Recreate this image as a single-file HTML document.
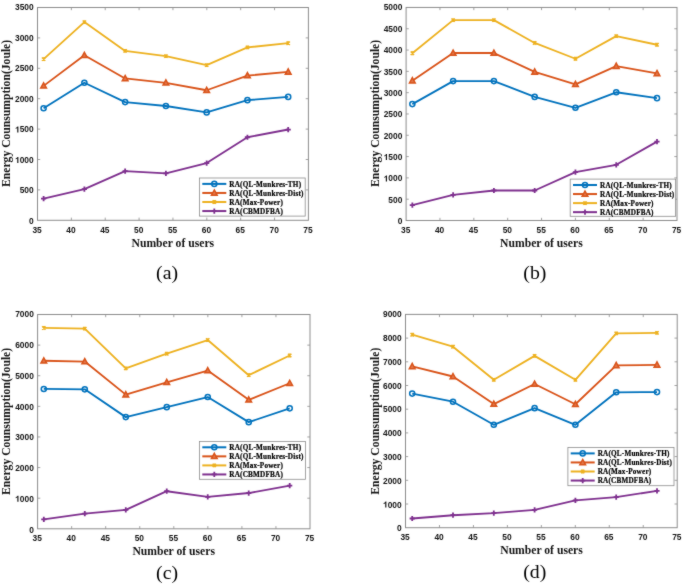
<!DOCTYPE html>
<html><head><meta charset="utf-8"><style>
html,body{margin:0;padding:0;background:#fff;-webkit-font-smoothing:antialiased;}
svg{display:block;will-change:transform;}
.tk{font-family:"Liberation Sans",sans-serif;font-weight:bold;font-size:8.4px;fill:#141414;}
.lb{font-family:"Liberation Serif",serif;font-weight:bold;font-size:11.65px;fill:#141414;}
.lg{font-family:"Liberation Serif",serif;font-weight:bold;font-size:7.2px;fill:#000;stroke:#000;stroke-width:0.2px;letter-spacing:0.2px;}
.pl{font-family:"Liberation Serif",serif;font-size:19.8px;fill:#000;}
</style></head><body>
<svg width="685" height="584" viewBox="0 0 685 584">
<filter id="soft" x="0" y="0" width="685" height="584" filterUnits="userSpaceOnUse" color-interpolation-filters="sRGB"><feConvolveMatrix order="3" kernelMatrix="1 2 1 2 24 2 1 2 1" edgeMode="duplicate"/></filter>
<g filter="url(#soft)">
<rect width="685" height="584" fill="#fff"/>
<text x="37.10" y="232.90" class="tk" text-anchor="middle">35</text>
<path d="M71.36 220.30V217.60M71.36 7.50V10.20" stroke="#8c8c8c" stroke-width="0.8"/>
<text x="70.96" y="232.90" class="tk" text-anchor="middle">40</text>
<path d="M105.22 220.30V217.60M105.22 7.50V10.20" stroke="#8c8c8c" stroke-width="0.8"/>
<text x="104.82" y="232.90" class="tk" text-anchor="middle">45</text>
<path d="M139.09 220.30V217.60M139.09 7.50V10.20" stroke="#8c8c8c" stroke-width="0.8"/>
<text x="138.69" y="232.90" class="tk" text-anchor="middle">50</text>
<path d="M172.95 220.30V217.60M172.95 7.50V10.20" stroke="#8c8c8c" stroke-width="0.8"/>
<text x="172.55" y="232.90" class="tk" text-anchor="middle">55</text>
<path d="M206.81 220.30V217.60M206.81 7.50V10.20" stroke="#8c8c8c" stroke-width="0.8"/>
<text x="206.41" y="232.90" class="tk" text-anchor="middle">60</text>
<path d="M240.67 220.30V217.60M240.67 7.50V10.20" stroke="#8c8c8c" stroke-width="0.8"/>
<text x="240.27" y="232.90" class="tk" text-anchor="middle">65</text>
<path d="M274.54 220.30V217.60M274.54 7.50V10.20" stroke="#8c8c8c" stroke-width="0.8"/>
<text x="274.14" y="232.90" class="tk" text-anchor="middle">70</text>
<text x="308.00" y="232.90" class="tk" text-anchor="middle">75</text>
<text x="33.70" y="224.00" class="tk" text-anchor="end">0</text>
<path d="M37.50 189.90H40.20M308.40 189.90H305.70" stroke="#8c8c8c" stroke-width="0.8"/>
<text x="33.70" y="193.49" class="tk" text-anchor="end">500</text>
<path d="M37.50 159.50H40.20M308.40 159.50H305.70" stroke="#8c8c8c" stroke-width="0.8"/>
<text x="33.70" y="162.97" class="tk" text-anchor="end">000</text>
<path d="M17.22 162.97 L18.41 162.97 L18.41 156.96 L17.45 156.96 L17.16 157.47 L16.45 158.06 L15.61 158.44 L15.61 159.36 L16.45 159.02 L17.22 158.52 Z" fill="#141414"/>
<path d="M37.50 129.10H40.20M308.40 129.10H305.70" stroke="#8c8c8c" stroke-width="0.8"/>
<text x="33.70" y="132.46" class="tk" text-anchor="end">500</text>
<path d="M17.22 132.46 L18.41 132.46 L18.41 126.44 L17.45 126.44 L17.16 126.96 L16.45 127.54 L15.61 127.92 L15.61 128.85 L16.45 128.51 L17.22 128.01 Z" fill="#141414"/>
<path d="M37.50 98.70H40.20M308.40 98.70H305.70" stroke="#8c8c8c" stroke-width="0.8"/>
<text x="33.70" y="101.94" class="tk" text-anchor="end">2000</text>
<path d="M37.50 68.30H40.20M308.40 68.30H305.70" stroke="#8c8c8c" stroke-width="0.8"/>
<text x="33.70" y="71.43" class="tk" text-anchor="end">2500</text>
<path d="M37.50 37.90H40.20M308.40 37.90H305.70" stroke="#8c8c8c" stroke-width="0.8"/>
<text x="33.70" y="40.91" class="tk" text-anchor="end">3000</text>
<text x="33.70" y="10.40" class="tk" text-anchor="end">3500</text>
<rect x="37.50" y="7.50" width="270.90" height="212.80" fill="none" stroke="#8c8c8c" stroke-width="1"/>
<path d="M43.60 108.25 L84.37 82.77 L125.13 102.10 L165.90 106.00 L206.67 112.38 L247.43 100.16 L288.20 96.88" stroke="#0072BD" stroke-width="1.85" fill="none" stroke-linejoin="round"/>
<circle cx="43.60" cy="108.25" r="2.55" fill="none" stroke="#0072BD" stroke-width="1.5"/>
<circle cx="84.37" cy="82.77" r="2.55" fill="none" stroke="#0072BD" stroke-width="1.5"/>
<circle cx="125.13" cy="102.10" r="2.55" fill="none" stroke="#0072BD" stroke-width="1.5"/>
<circle cx="165.90" cy="106.00" r="2.55" fill="none" stroke="#0072BD" stroke-width="1.5"/>
<circle cx="206.67" cy="112.38" r="2.55" fill="none" stroke="#0072BD" stroke-width="1.5"/>
<circle cx="247.43" cy="100.16" r="2.55" fill="none" stroke="#0072BD" stroke-width="1.5"/>
<circle cx="288.20" cy="96.88" r="2.55" fill="none" stroke="#0072BD" stroke-width="1.5"/>
<path d="M43.60 85.87 L84.37 55.29 L125.13 78.45 L165.90 82.83 L206.67 90.25 L247.43 75.60 L288.20 71.89" stroke="#D95319" stroke-width="1.85" fill="none" stroke-linejoin="round"/>
<path d="M43.60 82.87 L46.45 88.12 L40.75 88.12 Z" fill="#e2764a" stroke="#D95319" stroke-width="1.5" stroke-linejoin="miter"/>
<path d="M84.37 52.29 L87.22 57.54 L81.52 57.54 Z" fill="#e2764a" stroke="#D95319" stroke-width="1.5" stroke-linejoin="miter"/>
<path d="M125.13 75.45 L127.98 80.70 L122.28 80.70 Z" fill="#e2764a" stroke="#D95319" stroke-width="1.5" stroke-linejoin="miter"/>
<path d="M165.90 79.83 L168.75 85.08 L163.05 85.08 Z" fill="#e2764a" stroke="#D95319" stroke-width="1.5" stroke-linejoin="miter"/>
<path d="M206.67 87.25 L209.52 92.50 L203.82 92.50 Z" fill="#e2764a" stroke="#D95319" stroke-width="1.5" stroke-linejoin="miter"/>
<path d="M247.43 72.60 L250.28 77.85 L244.58 77.85 Z" fill="#e2764a" stroke="#D95319" stroke-width="1.5" stroke-linejoin="miter"/>
<path d="M288.20 68.89 L291.05 74.14 L285.35 74.14 Z" fill="#e2764a" stroke="#D95319" stroke-width="1.5" stroke-linejoin="miter"/>
<path d="M43.60 59.18 L84.37 22.09 L125.13 50.91 L165.90 56.14 L206.67 65.08 L247.43 47.38 L288.20 43.19" stroke="#EDB120" stroke-width="1.85" fill="none" stroke-linejoin="round"/>
<path d="M41.90 57.48 L45.30 60.88 M45.30 57.48 L41.90 60.88 M43.60 57.28 L43.60 61.08" stroke="#EDB120" stroke-width="1.4" fill="none"/>
<path d="M82.67 20.39 L86.07 23.79 M86.07 20.39 L82.67 23.79 M84.37 20.19 L84.37 23.99" stroke="#EDB120" stroke-width="1.4" fill="none"/>
<path d="M123.43 49.21 L126.83 52.61 M126.83 49.21 L123.43 52.61 M125.13 49.01 L125.13 52.81" stroke="#EDB120" stroke-width="1.4" fill="none"/>
<path d="M164.20 54.44 L167.60 57.84 M167.60 54.44 L164.20 57.84 M165.90 54.24 L165.90 58.04" stroke="#EDB120" stroke-width="1.4" fill="none"/>
<path d="M204.97 63.38 L208.37 66.78 M208.37 63.38 L204.97 66.78 M206.67 63.18 L206.67 66.98" stroke="#EDB120" stroke-width="1.4" fill="none"/>
<path d="M245.73 45.68 L249.13 49.08 M249.13 45.68 L245.73 49.08 M247.43 45.48 L247.43 49.28" stroke="#EDB120" stroke-width="1.4" fill="none"/>
<path d="M286.50 41.49 L289.90 44.89 M289.90 41.49 L286.50 44.89 M288.20 41.29 L288.20 45.09" stroke="#EDB120" stroke-width="1.4" fill="none"/>
<path d="M43.60 198.72 L84.37 189.05 L125.13 171.11 L165.90 173.30 L206.67 163.03 L247.43 137.25 L288.20 129.53" stroke="#7E2F8E" stroke-width="1.85" fill="none" stroke-linejoin="round"/>
<path d="M41.00 198.72 L46.20 198.72 M43.60 196.12 L43.60 201.32" stroke="#7E2F8E" stroke-width="1.8" fill="none"/>
<path d="M81.77 189.05 L86.97 189.05 M84.37 186.45 L84.37 191.65" stroke="#7E2F8E" stroke-width="1.8" fill="none"/>
<path d="M122.53 171.11 L127.73 171.11 M125.13 168.51 L125.13 173.71" stroke="#7E2F8E" stroke-width="1.8" fill="none"/>
<path d="M163.30 173.30 L168.50 173.30 M165.90 170.70 L165.90 175.90" stroke="#7E2F8E" stroke-width="1.8" fill="none"/>
<path d="M204.07 163.03 L209.27 163.03 M206.67 160.43 L206.67 165.63" stroke="#7E2F8E" stroke-width="1.8" fill="none"/>
<path d="M244.83 137.25 L250.03 137.25 M247.43 134.65 L247.43 139.85" stroke="#7E2F8E" stroke-width="1.8" fill="none"/>
<path d="M285.60 129.53 L290.80 129.53 M288.20 126.93 L288.20 132.13" stroke="#7E2F8E" stroke-width="1.8" fill="none"/>
<rect x="199.50" y="178.00" width="105.70" height="38.10" fill="#fff" stroke="#8c8c8c" stroke-width="0.8"/>
<path d="M202.30 183.90H226.30" stroke="#0072BD" stroke-width="2"/>
<circle cx="214.30" cy="183.90" r="2.55" fill="none" stroke="#0072BD" stroke-width="1.5"/>
<text x="229.30" y="186.50" class="lg">RA(QL-Munkres-TH)</text>
<path d="M202.30 192.95H226.30" stroke="#D95319" stroke-width="2"/>
<path d="M214.30 189.95 L217.15 195.20 L211.45 195.20 Z" fill="#e2764a" stroke="#D95319" stroke-width="1.5" stroke-linejoin="miter"/>
<text x="229.30" y="195.55" class="lg">RA(QL-Munkres-Dist)</text>
<path d="M202.30 202.00H226.30" stroke="#EDB120" stroke-width="2"/>
<path d="M212.60 200.30 L216.00 203.70 M216.00 200.30 L212.60 203.70 M214.30 200.10 L214.30 203.90" stroke="#EDB120" stroke-width="1.4" fill="none"/>
<text x="229.30" y="204.60" class="lg">RA(Max-Power)</text>
<path d="M202.30 211.05H226.30" stroke="#7E2F8E" stroke-width="2"/>
<path d="M211.70 211.05 L216.90 211.05 M214.30 208.45 L214.30 213.65" stroke="#7E2F8E" stroke-width="1.8" fill="none"/>
<text x="229.30" y="213.65" class="lg">RA(CBMDFBA)</text>
<text transform="translate(6.50 113.40) rotate(-90)" class="lb" text-anchor="middle" dy="3.9">Energy Counsumption(Joule)</text>
<text x="172.80" y="246.60" class="lb" text-anchor="middle">Number of users</text>
<text x="167.10" y="278.80" class="pl" text-anchor="middle">(a)</text>
<text x="405.70" y="233.10" class="tk" text-anchor="middle">35</text>
<path d="M439.96 220.50V217.80M439.96 7.45V10.15" stroke="#8c8c8c" stroke-width="0.8"/>
<text x="439.56" y="233.10" class="tk" text-anchor="middle">40</text>
<path d="M473.83 220.50V217.80M473.83 7.45V10.15" stroke="#8c8c8c" stroke-width="0.8"/>
<text x="473.43" y="233.10" class="tk" text-anchor="middle">45</text>
<path d="M507.69 220.50V217.80M507.69 7.45V10.15" stroke="#8c8c8c" stroke-width="0.8"/>
<text x="507.29" y="233.10" class="tk" text-anchor="middle">50</text>
<path d="M541.55 220.50V217.80M541.55 7.45V10.15" stroke="#8c8c8c" stroke-width="0.8"/>
<text x="541.15" y="233.10" class="tk" text-anchor="middle">55</text>
<path d="M575.41 220.50V217.80M575.41 7.45V10.15" stroke="#8c8c8c" stroke-width="0.8"/>
<text x="575.01" y="233.10" class="tk" text-anchor="middle">60</text>
<path d="M609.27 220.50V217.80M609.27 7.45V10.15" stroke="#8c8c8c" stroke-width="0.8"/>
<text x="608.88" y="233.10" class="tk" text-anchor="middle">65</text>
<path d="M643.14 220.50V217.80M643.14 7.45V10.15" stroke="#8c8c8c" stroke-width="0.8"/>
<text x="642.74" y="233.10" class="tk" text-anchor="middle">70</text>
<text x="676.60" y="233.10" class="tk" text-anchor="middle">75</text>
<text x="402.30" y="224.20" class="tk" text-anchor="end">0</text>
<path d="M406.10 199.19H408.80M677.00 199.19H674.30" stroke="#8c8c8c" stroke-width="0.8"/>
<text x="402.30" y="202.81" class="tk" text-anchor="end">500</text>
<path d="M406.10 177.89H408.80M677.00 177.89H674.30" stroke="#8c8c8c" stroke-width="0.8"/>
<text x="402.30" y="181.43" class="tk" text-anchor="end">000</text>
<path d="M385.82 181.43 L387.01 181.43 L387.01 175.42 L386.05 175.42 L385.76 175.93 L385.05 176.52 L384.21 176.89 L384.21 177.82 L385.05 177.48 L385.82 176.98 Z" fill="#141414"/>
<path d="M406.10 156.59H408.80M677.00 156.59H674.30" stroke="#8c8c8c" stroke-width="0.8"/>
<text x="402.30" y="160.05" class="tk" text-anchor="end">500</text>
<path d="M385.82 160.05 L387.01 160.05 L387.01 154.03 L386.05 154.03 L385.76 154.54 L385.05 155.13 L384.21 155.51 L384.21 156.43 L385.05 156.10 L385.82 155.59 Z" fill="#141414"/>
<path d="M406.10 135.28H408.80M677.00 135.28H674.30" stroke="#8c8c8c" stroke-width="0.8"/>
<text x="402.30" y="138.66" class="tk" text-anchor="end">2000</text>
<path d="M406.10 113.97H408.80M677.00 113.97H674.30" stroke="#8c8c8c" stroke-width="0.8"/>
<text x="402.30" y="117.27" class="tk" text-anchor="end">2500</text>
<path d="M406.10 92.67H408.80M677.00 92.67H674.30" stroke="#8c8c8c" stroke-width="0.8"/>
<text x="402.30" y="95.89" class="tk" text-anchor="end">3000</text>
<path d="M406.10 71.37H408.80M677.00 71.37H674.30" stroke="#8c8c8c" stroke-width="0.8"/>
<text x="402.30" y="74.50" class="tk" text-anchor="end">3500</text>
<path d="M406.10 50.06H408.80M677.00 50.06H674.30" stroke="#8c8c8c" stroke-width="0.8"/>
<text x="402.30" y="53.12" class="tk" text-anchor="end">4000</text>
<path d="M406.10 28.75H408.80M677.00 28.75H674.30" stroke="#8c8c8c" stroke-width="0.8"/>
<text x="402.30" y="31.73" class="tk" text-anchor="end">4500</text>
<text x="402.30" y="10.35" class="tk" text-anchor="end">5000</text>
<rect x="406.10" y="7.45" width="270.90" height="213.05" fill="none" stroke="#8c8c8c" stroke-width="1"/>
<path d="M412.35 104.09 L453.12 81.08 L493.90 81.08 L534.67 96.89 L575.45 107.80 L616.23 92.29 L657.00 98.17" stroke="#0072BD" stroke-width="1.85" fill="none" stroke-linejoin="round"/>
<circle cx="412.35" cy="104.09" r="2.55" fill="none" stroke="#0072BD" stroke-width="1.5"/>
<circle cx="453.12" cy="81.08" r="2.55" fill="none" stroke="#0072BD" stroke-width="1.5"/>
<circle cx="493.90" cy="81.08" r="2.55" fill="none" stroke="#0072BD" stroke-width="1.5"/>
<circle cx="534.67" cy="96.89" r="2.55" fill="none" stroke="#0072BD" stroke-width="1.5"/>
<circle cx="575.45" cy="107.80" r="2.55" fill="none" stroke="#0072BD" stroke-width="1.5"/>
<circle cx="616.23" cy="92.29" r="2.55" fill="none" stroke="#0072BD" stroke-width="1.5"/>
<circle cx="657.00" cy="98.17" r="2.55" fill="none" stroke="#0072BD" stroke-width="1.5"/>
<path d="M412.35 80.65 L453.12 53.04 L493.90 53.04 L534.67 71.88 L575.45 84.36 L616.23 66.17 L657.00 73.45" stroke="#D95319" stroke-width="1.85" fill="none" stroke-linejoin="round"/>
<path d="M412.35 77.65 L415.20 82.90 L409.50 82.90 Z" fill="#e2764a" stroke="#D95319" stroke-width="1.5" stroke-linejoin="miter"/>
<path d="M453.12 50.04 L455.98 55.29 L450.27 55.29 Z" fill="#e2764a" stroke="#D95319" stroke-width="1.5" stroke-linejoin="miter"/>
<path d="M493.90 50.04 L496.75 55.29 L491.05 55.29 Z" fill="#e2764a" stroke="#D95319" stroke-width="1.5" stroke-linejoin="miter"/>
<path d="M534.67 68.88 L537.52 74.13 L531.82 74.13 Z" fill="#e2764a" stroke="#D95319" stroke-width="1.5" stroke-linejoin="miter"/>
<path d="M575.45 81.36 L578.30 86.61 L572.60 86.61 Z" fill="#e2764a" stroke="#D95319" stroke-width="1.5" stroke-linejoin="miter"/>
<path d="M616.23 63.17 L619.08 68.42 L613.38 68.42 Z" fill="#e2764a" stroke="#D95319" stroke-width="1.5" stroke-linejoin="miter"/>
<path d="M657.00 70.45 L659.85 75.70 L654.15 75.70 Z" fill="#e2764a" stroke="#D95319" stroke-width="1.5" stroke-linejoin="miter"/>
<path d="M412.35 53.26 L453.12 20.15 L493.90 20.15 L534.67 42.94 L575.45 58.75 L616.23 36.17 L657.00 44.73" stroke="#EDB120" stroke-width="1.85" fill="none" stroke-linejoin="round"/>
<path d="M410.65 51.56 L414.05 54.96 M414.05 51.56 L410.65 54.96 M412.35 51.36 L412.35 55.16" stroke="#EDB120" stroke-width="1.4" fill="none"/>
<path d="M451.43 18.45 L454.82 21.85 M454.82 18.45 L451.43 21.85 M453.12 18.25 L453.12 22.05" stroke="#EDB120" stroke-width="1.4" fill="none"/>
<path d="M492.20 18.45 L495.60 21.85 M495.60 18.45 L492.20 21.85 M493.90 18.25 L493.90 22.05" stroke="#EDB120" stroke-width="1.4" fill="none"/>
<path d="M532.97 41.24 L536.38 44.64 M536.38 41.24 L532.97 44.64 M534.67 41.04 L534.67 44.84" stroke="#EDB120" stroke-width="1.4" fill="none"/>
<path d="M573.75 57.05 L577.15 60.45 M577.15 57.05 L573.75 60.45 M575.45 56.85 L575.45 60.65" stroke="#EDB120" stroke-width="1.4" fill="none"/>
<path d="M614.52 34.47 L617.93 37.87 M617.93 34.47 L614.52 37.87 M616.23 34.27 L616.23 38.07" stroke="#EDB120" stroke-width="1.4" fill="none"/>
<path d="M655.30 43.03 L658.70 46.43 M658.70 43.03 L655.30 46.43 M657.00 42.83 L657.00 46.63" stroke="#EDB120" stroke-width="1.4" fill="none"/>
<path d="M412.35 205.16 L453.12 194.81 L493.90 190.50 L534.67 190.50 L575.45 172.10 L616.23 164.81 L657.00 141.59" stroke="#7E2F8E" stroke-width="1.85" fill="none" stroke-linejoin="round"/>
<path d="M409.75 205.16 L414.95 205.16 M412.35 202.56 L412.35 207.76" stroke="#7E2F8E" stroke-width="1.8" fill="none"/>
<path d="M450.52 194.81 L455.73 194.81 M453.12 192.21 L453.12 197.41" stroke="#7E2F8E" stroke-width="1.8" fill="none"/>
<path d="M491.30 190.50 L496.50 190.50 M493.90 187.90 L493.90 193.10" stroke="#7E2F8E" stroke-width="1.8" fill="none"/>
<path d="M532.07 190.50 L537.27 190.50 M534.67 187.90 L534.67 193.10" stroke="#7E2F8E" stroke-width="1.8" fill="none"/>
<path d="M572.85 172.10 L578.05 172.10 M575.45 169.50 L575.45 174.70" stroke="#7E2F8E" stroke-width="1.8" fill="none"/>
<path d="M613.62 164.81 L618.83 164.81 M616.23 162.21 L616.23 167.41" stroke="#7E2F8E" stroke-width="1.8" fill="none"/>
<path d="M654.40 141.59 L659.60 141.59 M657.00 138.99 L657.00 144.19" stroke="#7E2F8E" stroke-width="1.8" fill="none"/>
<rect x="570.20" y="179.10" width="105.40" height="37.20" fill="#fff" stroke="#8c8c8c" stroke-width="0.8"/>
<path d="M573.00 185.00H597.00" stroke="#0072BD" stroke-width="2"/>
<circle cx="585.00" cy="185.00" r="2.55" fill="none" stroke="#0072BD" stroke-width="1.5"/>
<text x="600.00" y="187.60" class="lg">RA(QL-Munkres-TH)</text>
<path d="M573.00 194.05H597.00" stroke="#D95319" stroke-width="2"/>
<path d="M585.00 191.05 L587.85 196.30 L582.15 196.30 Z" fill="#e2764a" stroke="#D95319" stroke-width="1.5" stroke-linejoin="miter"/>
<text x="600.00" y="196.65" class="lg">RA(QL-Munkres-Dist)</text>
<path d="M573.00 203.10H597.00" stroke="#EDB120" stroke-width="2"/>
<path d="M583.30 201.40 L586.70 204.80 M586.70 201.40 L583.30 204.80 M585.00 201.20 L585.00 205.00" stroke="#EDB120" stroke-width="1.4" fill="none"/>
<text x="600.00" y="205.70" class="lg">RA(Max-Power)</text>
<path d="M573.00 212.15H597.00" stroke="#7E2F8E" stroke-width="2"/>
<path d="M582.40 212.15 L587.60 212.15 M585.00 209.55 L585.00 214.75" stroke="#7E2F8E" stroke-width="1.8" fill="none"/>
<text x="600.00" y="214.75" class="lg">RA(CBMDFBA)</text>
<text transform="translate(375.50 113.40) rotate(-90)" class="lb" text-anchor="middle" dy="3.9">Energy Counsumption(Joule)</text>
<text x="541.40" y="246.70" class="lb" text-anchor="middle">Number of users</text>
<text x="534.90" y="278.80" class="pl" text-anchor="middle">(b)</text>
<text x="37.20" y="541.40" class="tk" text-anchor="middle">35</text>
<path d="M71.65 528.80V526.10M71.65 314.50V317.20" stroke="#8c8c8c" stroke-width="0.8"/>
<text x="71.25" y="541.40" class="tk" text-anchor="middle">40</text>
<path d="M105.70 528.80V526.10M105.70 314.50V317.20" stroke="#8c8c8c" stroke-width="0.8"/>
<text x="105.30" y="541.40" class="tk" text-anchor="middle">45</text>
<path d="M139.75 528.80V526.10M139.75 314.50V317.20" stroke="#8c8c8c" stroke-width="0.8"/>
<text x="139.35" y="541.40" class="tk" text-anchor="middle">50</text>
<path d="M173.80 528.80V526.10M173.80 314.50V317.20" stroke="#8c8c8c" stroke-width="0.8"/>
<text x="173.40" y="541.40" class="tk" text-anchor="middle">55</text>
<path d="M207.85 528.80V526.10M207.85 314.50V317.20" stroke="#8c8c8c" stroke-width="0.8"/>
<text x="207.45" y="541.40" class="tk" text-anchor="middle">60</text>
<path d="M241.90 528.80V526.10M241.90 314.50V317.20" stroke="#8c8c8c" stroke-width="0.8"/>
<text x="241.50" y="541.40" class="tk" text-anchor="middle">65</text>
<path d="M275.95 528.80V526.10M275.95 314.50V317.20" stroke="#8c8c8c" stroke-width="0.8"/>
<text x="275.55" y="541.40" class="tk" text-anchor="middle">70</text>
<text x="309.60" y="541.40" class="tk" text-anchor="middle">75</text>
<text x="33.80" y="532.50" class="tk" text-anchor="end">0</text>
<path d="M37.60 498.19H40.30M310.00 498.19H307.30" stroke="#8c8c8c" stroke-width="0.8"/>
<text x="33.80" y="501.77" class="tk" text-anchor="end">000</text>
<path d="M17.32 501.77 L18.51 501.77 L18.51 495.76 L17.55 495.76 L17.26 496.27 L16.55 496.86 L15.71 497.24 L15.71 498.16 L16.55 497.82 L17.32 497.32 Z" fill="#141414"/>
<path d="M37.60 467.57H40.30M310.00 467.57H307.30" stroke="#8c8c8c" stroke-width="0.8"/>
<text x="33.80" y="471.04" class="tk" text-anchor="end">2000</text>
<path d="M37.60 436.96H40.30M310.00 436.96H307.30" stroke="#8c8c8c" stroke-width="0.8"/>
<text x="33.80" y="440.31" class="tk" text-anchor="end">3000</text>
<path d="M37.60 406.34H40.30M310.00 406.34H307.30" stroke="#8c8c8c" stroke-width="0.8"/>
<text x="33.80" y="409.59" class="tk" text-anchor="end">4000</text>
<path d="M37.60 375.73H40.30M310.00 375.73H307.30" stroke="#8c8c8c" stroke-width="0.8"/>
<text x="33.80" y="378.86" class="tk" text-anchor="end">5000</text>
<path d="M37.60 345.11H40.30M310.00 345.11H307.30" stroke="#8c8c8c" stroke-width="0.8"/>
<text x="33.80" y="348.13" class="tk" text-anchor="end">6000</text>
<text x="33.80" y="317.40" class="tk" text-anchor="end">7000</text>
<rect x="37.60" y="314.50" width="272.40" height="214.30" fill="none" stroke="#8c8c8c" stroke-width="1"/>
<path d="M43.80 388.95 L84.78 389.35 L125.77 417.12 L166.75 407.14 L207.73 397.07 L248.72 422.14 L289.70 408.33" stroke="#0072BD" stroke-width="1.85" fill="none" stroke-linejoin="round"/>
<circle cx="43.80" cy="388.95" r="2.55" fill="none" stroke="#0072BD" stroke-width="1.5"/>
<circle cx="84.78" cy="389.35" r="2.55" fill="none" stroke="#0072BD" stroke-width="1.5"/>
<circle cx="125.77" cy="417.12" r="2.55" fill="none" stroke="#0072BD" stroke-width="1.5"/>
<circle cx="166.75" cy="407.14" r="2.55" fill="none" stroke="#0072BD" stroke-width="1.5"/>
<circle cx="207.73" cy="397.07" r="2.55" fill="none" stroke="#0072BD" stroke-width="1.5"/>
<circle cx="248.72" cy="422.14" r="2.55" fill="none" stroke="#0072BD" stroke-width="1.5"/>
<circle cx="289.70" cy="408.33" r="2.55" fill="none" stroke="#0072BD" stroke-width="1.5"/>
<path d="M43.80 360.79 L84.78 361.58 L125.77 394.65 L166.75 382.37 L207.73 370.59 L248.72 399.85 L289.70 383.26" stroke="#D95319" stroke-width="1.85" fill="none" stroke-linejoin="round"/>
<path d="M43.80 357.79 L46.65 363.04 L40.95 363.04 Z" fill="#e2764a" stroke="#D95319" stroke-width="1.5" stroke-linejoin="miter"/>
<path d="M84.78 358.58 L87.63 363.83 L81.93 363.83 Z" fill="#e2764a" stroke="#D95319" stroke-width="1.5" stroke-linejoin="miter"/>
<path d="M125.77 391.65 L128.62 396.90 L122.92 396.90 Z" fill="#e2764a" stroke="#D95319" stroke-width="1.5" stroke-linejoin="miter"/>
<path d="M166.75 379.37 L169.60 384.62 L163.90 384.62 Z" fill="#e2764a" stroke="#D95319" stroke-width="1.5" stroke-linejoin="miter"/>
<path d="M207.73 367.59 L210.58 372.84 L204.88 372.84 Z" fill="#e2764a" stroke="#D95319" stroke-width="1.5" stroke-linejoin="miter"/>
<path d="M248.72 396.85 L251.57 402.10 L245.87 402.10 Z" fill="#e2764a" stroke="#D95319" stroke-width="1.5" stroke-linejoin="miter"/>
<path d="M289.70 380.26 L292.55 385.51 L286.85 385.51 Z" fill="#e2764a" stroke="#D95319" stroke-width="1.5" stroke-linejoin="miter"/>
<path d="M43.80 327.94 L84.78 328.64 L125.77 368.38 L166.75 353.69 L207.73 340.03 L248.72 375.18 L289.70 355.49" stroke="#EDB120" stroke-width="1.85" fill="none" stroke-linejoin="round"/>
<path d="M42.10 326.24 L45.50 329.64 M45.50 326.24 L42.10 329.64 M43.80 326.04 L43.80 329.84" stroke="#EDB120" stroke-width="1.4" fill="none"/>
<path d="M83.08 326.94 L86.48 330.34 M86.48 326.94 L83.08 330.34 M84.78 326.74 L84.78 330.54" stroke="#EDB120" stroke-width="1.4" fill="none"/>
<path d="M124.07 366.68 L127.47 370.08 M127.47 366.68 L124.07 370.08 M125.77 366.48 L125.77 370.28" stroke="#EDB120" stroke-width="1.4" fill="none"/>
<path d="M165.05 351.99 L168.45 355.39 M168.45 351.99 L165.05 355.39 M166.75 351.79 L166.75 355.59" stroke="#EDB120" stroke-width="1.4" fill="none"/>
<path d="M206.03 338.33 L209.43 341.73 M209.43 338.33 L206.03 341.73 M207.73 338.13 L207.73 341.93" stroke="#EDB120" stroke-width="1.4" fill="none"/>
<path d="M247.02 373.48 L250.42 376.88 M250.42 373.48 L247.02 376.88 M248.72 373.28 L248.72 377.08" stroke="#EDB120" stroke-width="1.4" fill="none"/>
<path d="M288.00 353.79 L291.40 357.19 M291.40 353.79 L288.00 357.19 M289.70 353.59 L289.70 357.39" stroke="#EDB120" stroke-width="1.4" fill="none"/>
<path d="M43.80 519.31 L84.78 513.62 L125.77 509.91 L166.75 491.21 L207.73 496.84 L248.72 493.04 L289.70 485.54" stroke="#7E2F8E" stroke-width="1.85" fill="none" stroke-linejoin="round"/>
<path d="M41.20 519.31 L46.40 519.31 M43.80 516.71 L43.80 521.91" stroke="#7E2F8E" stroke-width="1.8" fill="none"/>
<path d="M82.18 513.62 L87.38 513.62 M84.78 511.02 L84.78 516.22" stroke="#7E2F8E" stroke-width="1.8" fill="none"/>
<path d="M123.17 509.91 L128.37 509.91 M125.77 507.31 L125.77 512.51" stroke="#7E2F8E" stroke-width="1.8" fill="none"/>
<path d="M164.15 491.21 L169.35 491.21 M166.75 488.61 L166.75 493.81" stroke="#7E2F8E" stroke-width="1.8" fill="none"/>
<path d="M205.13 496.84 L210.33 496.84 M207.73 494.24 L207.73 499.44" stroke="#7E2F8E" stroke-width="1.8" fill="none"/>
<path d="M246.12 493.04 L251.32 493.04 M248.72 490.44 L248.72 495.64" stroke="#7E2F8E" stroke-width="1.8" fill="none"/>
<path d="M287.10 485.54 L292.30 485.54 M289.70 482.94 L289.70 488.14" stroke="#7E2F8E" stroke-width="1.8" fill="none"/>
<rect x="199.50" y="441.40" width="105.90" height="37.90" fill="#fff" stroke="#8c8c8c" stroke-width="0.8"/>
<path d="M202.30 447.30H226.30" stroke="#0072BD" stroke-width="2"/>
<circle cx="214.30" cy="447.30" r="2.55" fill="none" stroke="#0072BD" stroke-width="1.5"/>
<text x="229.30" y="449.90" class="lg">RA(QL-Munkres-TH)</text>
<path d="M202.30 456.35H226.30" stroke="#D95319" stroke-width="2"/>
<path d="M214.30 453.35 L217.15 458.60 L211.45 458.60 Z" fill="#e2764a" stroke="#D95319" stroke-width="1.5" stroke-linejoin="miter"/>
<text x="229.30" y="458.95" class="lg">RA(QL-Munkres-Dist)</text>
<path d="M202.30 465.40H226.30" stroke="#EDB120" stroke-width="2"/>
<path d="M212.60 463.70 L216.00 467.10 M216.00 463.70 L212.60 467.10 M214.30 463.50 L214.30 467.30" stroke="#EDB120" stroke-width="1.4" fill="none"/>
<text x="229.30" y="468.00" class="lg">RA(Max-Power)</text>
<path d="M202.30 474.45H226.30" stroke="#7E2F8E" stroke-width="2"/>
<path d="M211.70 474.45 L216.90 474.45 M214.30 471.85 L214.30 477.05" stroke="#7E2F8E" stroke-width="1.8" fill="none"/>
<text x="229.30" y="477.05" class="lg">RA(CBMDFBA)</text>
<text transform="translate(6.50 421.40) rotate(-90)" class="lb" text-anchor="middle" dy="3.9">Energy Counsumption(Joule)</text>
<text x="173.70" y="555.30" class="lb" text-anchor="middle">Number of users</text>
<text x="167.10" y="579.30" class="pl" text-anchor="middle">(c)</text>
<text x="405.10" y="540.30" class="tk" text-anchor="middle">35</text>
<path d="M439.46 527.70V525.00M439.46 314.40V317.10" stroke="#8c8c8c" stroke-width="0.8"/>
<text x="439.06" y="540.30" class="tk" text-anchor="middle">40</text>
<path d="M473.43 527.70V525.00M473.43 314.40V317.10" stroke="#8c8c8c" stroke-width="0.8"/>
<text x="473.03" y="540.30" class="tk" text-anchor="middle">45</text>
<path d="M507.39 527.70V525.00M507.39 314.40V317.10" stroke="#8c8c8c" stroke-width="0.8"/>
<text x="506.99" y="540.30" class="tk" text-anchor="middle">50</text>
<path d="M541.35 527.70V525.00M541.35 314.40V317.10" stroke="#8c8c8c" stroke-width="0.8"/>
<text x="540.95" y="540.30" class="tk" text-anchor="middle">55</text>
<path d="M575.31 527.70V525.00M575.31 314.40V317.10" stroke="#8c8c8c" stroke-width="0.8"/>
<text x="574.91" y="540.30" class="tk" text-anchor="middle">60</text>
<path d="M609.28 527.70V525.00M609.28 314.40V317.10" stroke="#8c8c8c" stroke-width="0.8"/>
<text x="608.88" y="540.30" class="tk" text-anchor="middle">65</text>
<path d="M643.24 527.70V525.00M643.24 314.40V317.10" stroke="#8c8c8c" stroke-width="0.8"/>
<text x="642.84" y="540.30" class="tk" text-anchor="middle">70</text>
<text x="676.80" y="540.30" class="tk" text-anchor="middle">75</text>
<text x="401.70" y="531.40" class="tk" text-anchor="end">0</text>
<path d="M405.50 504.00H408.20M677.20 504.00H674.50" stroke="#8c8c8c" stroke-width="0.8"/>
<text x="401.70" y="507.61" class="tk" text-anchor="end">000</text>
<path d="M385.22 507.61 L386.41 507.61 L386.41 501.60 L385.45 501.60 L385.16 502.11 L384.45 502.70 L383.61 503.08 L383.61 504.00 L384.45 503.66 L385.22 503.16 Z" fill="#141414"/>
<path d="M405.50 480.30H408.20M677.20 480.30H674.50" stroke="#8c8c8c" stroke-width="0.8"/>
<text x="401.70" y="483.82" class="tk" text-anchor="end">2000</text>
<path d="M405.50 456.60H408.20M677.20 456.60H674.50" stroke="#8c8c8c" stroke-width="0.8"/>
<text x="401.70" y="460.03" class="tk" text-anchor="end">3000</text>
<path d="M405.50 432.90H408.20M677.20 432.90H674.50" stroke="#8c8c8c" stroke-width="0.8"/>
<text x="401.70" y="436.24" class="tk" text-anchor="end">4000</text>
<path d="M405.50 409.20H408.20M677.20 409.20H674.50" stroke="#8c8c8c" stroke-width="0.8"/>
<text x="401.70" y="412.46" class="tk" text-anchor="end">5000</text>
<path d="M405.50 385.50H408.20M677.20 385.50H674.50" stroke="#8c8c8c" stroke-width="0.8"/>
<text x="401.70" y="388.67" class="tk" text-anchor="end">6000</text>
<path d="M405.50 361.80H408.20M677.20 361.80H674.50" stroke="#8c8c8c" stroke-width="0.8"/>
<text x="401.70" y="364.88" class="tk" text-anchor="end">7000</text>
<path d="M405.50 338.10H408.20M677.20 338.10H674.50" stroke="#8c8c8c" stroke-width="0.8"/>
<text x="401.70" y="341.09" class="tk" text-anchor="end">8000</text>
<text x="401.70" y="317.30" class="tk" text-anchor="end">9000</text>
<rect x="405.50" y="314.40" width="271.70" height="213.30" fill="none" stroke="#8c8c8c" stroke-width="1"/>
<path d="M412.20 393.61 L453.00 401.71 L493.80 424.79 L534.60 408.13 L575.40 424.79 L616.20 392.30 L657.00 392.09" stroke="#0072BD" stroke-width="1.85" fill="none" stroke-linejoin="round"/>
<circle cx="412.20" cy="393.61" r="2.55" fill="none" stroke="#0072BD" stroke-width="1.5"/>
<circle cx="453.00" cy="401.71" r="2.55" fill="none" stroke="#0072BD" stroke-width="1.5"/>
<circle cx="493.80" cy="424.79" r="2.55" fill="none" stroke="#0072BD" stroke-width="1.5"/>
<circle cx="534.60" cy="408.13" r="2.55" fill="none" stroke="#0072BD" stroke-width="1.5"/>
<circle cx="575.40" cy="424.79" r="2.55" fill="none" stroke="#0072BD" stroke-width="1.5"/>
<circle cx="616.20" cy="392.30" r="2.55" fill="none" stroke="#0072BD" stroke-width="1.5"/>
<circle cx="657.00" cy="392.09" r="2.55" fill="none" stroke="#0072BD" stroke-width="1.5"/>
<path d="M412.20 366.40 L453.00 376.49 L493.80 404.10 L534.60 384.01 L575.40 404.29 L616.20 365.40 L657.00 364.90" stroke="#D95319" stroke-width="1.85" fill="none" stroke-linejoin="round"/>
<path d="M412.20 363.40 L415.05 368.65 L409.35 368.65 Z" fill="#e2764a" stroke="#D95319" stroke-width="1.5" stroke-linejoin="miter"/>
<path d="M453.00 373.49 L455.85 378.74 L450.15 378.74 Z" fill="#e2764a" stroke="#D95319" stroke-width="1.5" stroke-linejoin="miter"/>
<path d="M493.80 401.10 L496.65 406.35 L490.95 406.35 Z" fill="#e2764a" stroke="#D95319" stroke-width="1.5" stroke-linejoin="miter"/>
<path d="M534.60 381.01 L537.45 386.26 L531.75 386.26 Z" fill="#e2764a" stroke="#D95319" stroke-width="1.5" stroke-linejoin="miter"/>
<path d="M575.40 401.29 L578.25 406.54 L572.55 406.54 Z" fill="#e2764a" stroke="#D95319" stroke-width="1.5" stroke-linejoin="miter"/>
<path d="M616.20 362.40 L619.05 367.65 L613.35 367.65 Z" fill="#e2764a" stroke="#D95319" stroke-width="1.5" stroke-linejoin="miter"/>
<path d="M657.00 361.90 L659.85 367.15 L654.15 367.15 Z" fill="#e2764a" stroke="#D95319" stroke-width="1.5" stroke-linejoin="miter"/>
<path d="M412.20 334.71 L453.00 346.70 L493.80 379.79 L534.60 355.90 L575.40 379.79 L616.20 333.41 L657.00 332.91" stroke="#EDB120" stroke-width="1.85" fill="none" stroke-linejoin="round"/>
<path d="M410.50 333.01 L413.90 336.41 M413.90 333.01 L410.50 336.41 M412.20 332.81 L412.20 336.61" stroke="#EDB120" stroke-width="1.4" fill="none"/>
<path d="M451.30 345.00 L454.70 348.40 M454.70 345.00 L451.30 348.40 M453.00 344.80 L453.00 348.60" stroke="#EDB120" stroke-width="1.4" fill="none"/>
<path d="M492.10 378.09 L495.50 381.49 M495.50 378.09 L492.10 381.49 M493.80 377.89 L493.80 381.69" stroke="#EDB120" stroke-width="1.4" fill="none"/>
<path d="M532.90 354.20 L536.30 357.60 M536.30 354.20 L532.90 357.60 M534.60 354.00 L534.60 357.80" stroke="#EDB120" stroke-width="1.4" fill="none"/>
<path d="M573.70 378.09 L577.10 381.49 M577.10 378.09 L573.70 381.49 M575.40 377.89 L575.40 381.69" stroke="#EDB120" stroke-width="1.4" fill="none"/>
<path d="M614.50 331.71 L617.90 335.11 M617.90 331.71 L614.50 335.11 M616.20 331.51 L616.20 335.31" stroke="#EDB120" stroke-width="1.4" fill="none"/>
<path d="M655.30 331.21 L658.70 334.61 M658.70 331.21 L655.30 334.61 M657.00 331.01 L657.00 334.81" stroke="#EDB120" stroke-width="1.4" fill="none"/>
<path d="M412.20 518.50 L453.00 515.21 L493.80 513.20 L534.60 509.81 L575.40 500.30 L616.20 497.10 L657.00 490.89" stroke="#7E2F8E" stroke-width="1.85" fill="none" stroke-linejoin="round"/>
<path d="M409.60 518.50 L414.80 518.50 M412.20 515.90 L412.20 521.10" stroke="#7E2F8E" stroke-width="1.8" fill="none"/>
<path d="M450.40 515.21 L455.60 515.21 M453.00 512.61 L453.00 517.81" stroke="#7E2F8E" stroke-width="1.8" fill="none"/>
<path d="M491.20 513.20 L496.40 513.20 M493.80 510.60 L493.80 515.80" stroke="#7E2F8E" stroke-width="1.8" fill="none"/>
<path d="M532.00 509.81 L537.20 509.81 M534.60 507.21 L534.60 512.41" stroke="#7E2F8E" stroke-width="1.8" fill="none"/>
<path d="M572.80 500.30 L578.00 500.30 M575.40 497.70 L575.40 502.90" stroke="#7E2F8E" stroke-width="1.8" fill="none"/>
<path d="M613.60 497.10 L618.80 497.10 M616.20 494.50 L616.20 499.70" stroke="#7E2F8E" stroke-width="1.8" fill="none"/>
<path d="M654.40 490.89 L659.60 490.89 M657.00 488.29 L657.00 493.49" stroke="#7E2F8E" stroke-width="1.8" fill="none"/>
<rect x="567.90" y="447.50" width="106.10" height="38.20" fill="#fff" stroke="#8c8c8c" stroke-width="0.8"/>
<path d="M570.70 453.40H594.70" stroke="#0072BD" stroke-width="2"/>
<circle cx="582.70" cy="453.40" r="2.55" fill="none" stroke="#0072BD" stroke-width="1.5"/>
<text x="597.70" y="456.00" class="lg">RA(QL-Munkres-TH)</text>
<path d="M570.70 462.45H594.70" stroke="#D95319" stroke-width="2"/>
<path d="M582.70 459.45 L585.55 464.70 L579.85 464.70 Z" fill="#e2764a" stroke="#D95319" stroke-width="1.5" stroke-linejoin="miter"/>
<text x="597.70" y="465.05" class="lg">RA(QL-Munkres-Dist)</text>
<path d="M570.70 471.50H594.70" stroke="#EDB120" stroke-width="2"/>
<path d="M581.00 469.80 L584.40 473.20 M584.40 469.80 L581.00 473.20 M582.70 469.60 L582.70 473.40" stroke="#EDB120" stroke-width="1.4" fill="none"/>
<text x="597.70" y="474.10" class="lg">RA(Max-Power)</text>
<path d="M570.70 480.55H594.70" stroke="#7E2F8E" stroke-width="2"/>
<path d="M580.10 480.55 L585.30 480.55 M582.70 477.95 L582.70 483.15" stroke="#7E2F8E" stroke-width="1.8" fill="none"/>
<text x="597.70" y="483.15" class="lg">RA(CBMDFBA)</text>
<text transform="translate(375.00 421.20) rotate(-90)" class="lb" text-anchor="middle" dy="3.9">Energy Counsumption(Joule)</text>
<text x="541.50" y="553.90" class="lb" text-anchor="middle">Number of users</text>
<text x="534.80" y="578.30" class="pl" text-anchor="middle">(d)</text>
</g>
</svg>
</body></html>
